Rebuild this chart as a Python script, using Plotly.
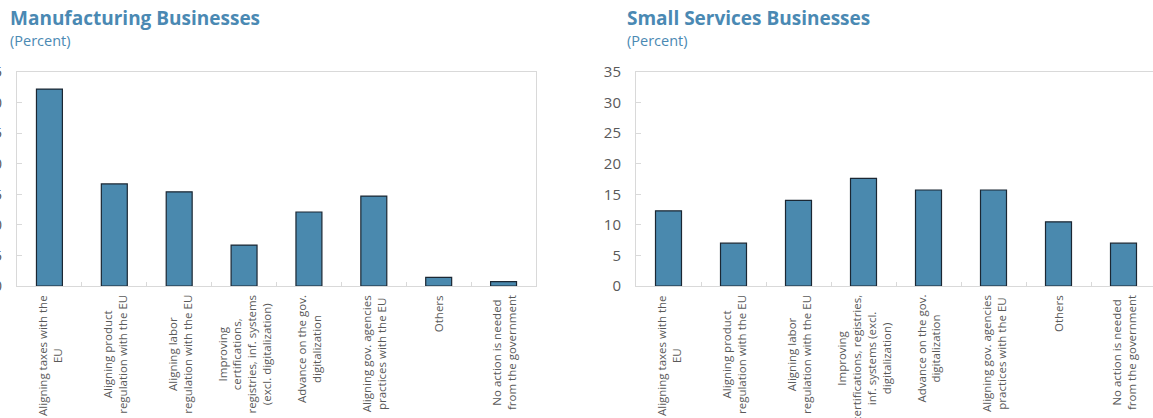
import plotly.graph_objects as go

W, H = 1153, 418

categories = [
    "Aligning taxes with the<br>EU",
    "Aligning product<br>regulation with the EU",
    "Aligning labor<br>regulation with the EU",
    "Improving<br>certifications,<br>registries, inf. systems<br>(excl. digitalization)",
    "Advance on the gov.<br>digitalization",
    "Aligning gov. agencies<br>practices with the EU",
    "Others",
    "No action is needed<br>from the government",
]
categories_services = [
    "Aligning taxes with the<br>EU",
    "Aligning product<br>regulation with the EU",
    "Aligning labor<br>regulation with the EU",
    "Improving<br>certifications, registries,<br>inf. systems (excl.<br>digitalization)",
    "Advance on the gov.<br>digitalization",
    "Aligning gov. agencies<br>practices with the EU",
    "Others",
    "No action is needed<br>from the government",
]
manufacturing = [32.2, 16.7, 15.4, 6.7, 12.1, 14.7, 1.4, 0.7]
services = [12.3, 7.0, 14.0, 17.6, 15.7, 15.7, 10.5, 7.0]
y_ticks = [0, 5, 10, 15, 20, 25, 30, 35]

BAR = "#4a89ae"
EDGE = "#1b2733"
TITLE = "#4a89b3"
GRID = "#d9d9d9"
TICKTXT = "#595959"


def px_x(v):
    return v / W


def px_y(v):
    return 1 - v / H


fig = go.Figure()
idx = list(range(len(categories)))
fig.add_trace(go.Bar(x=idx, y=manufacturing, xaxis="x", yaxis="y",
                     marker=dict(color=BAR, line=dict(color=EDGE, width=1.2)),
                     showlegend=False))
fig.add_trace(go.Bar(x=idx, y=services, xaxis="x2", yaxis="y2",
                     marker=dict(color=BAR, line=dict(color=EDGE, width=1.2)),
                     showlegend=False))

common_x = dict(range=[-0.5, 7.5], tickmode="array", tickvals=[i + 0.5 for i in idx[:-1]],
                showticklabels=False, ticks="inside", ticklen=4, tickcolor=GRID,
                showline=True, linecolor=GRID, linewidth=1, mirror=True,
                showgrid=False, zeroline=False, fixedrange=True, automargin=False)
common_y = dict(range=[0, 35], tickvals=y_ticks, ticks="inside", ticklen=5,
                tickcolor=GRID, showline=True, linecolor=GRID, linewidth=1,
                mirror=True, showgrid=False, zeroline=False, automargin=False,
                tickfont=dict(family="Open Sans", size=15, color=TICKTXT),
                ticklabelstandoff=11)

y_dom = [px_y(286), px_y(72)]
x2_right = 7.5 - 3 / 65.0

fig.update_layout(
    width=W, height=H, margin=dict(l=0, r=0, t=0, b=0, autoexpand=False),
    paper_bgcolor="white", plot_bgcolor="white", bargap=0.6,
    xaxis=dict(domain=[px_x(17), px_x(536)], anchor="y", **common_x),
    yaxis=dict(domain=y_dom, anchor="x", **common_y),
    xaxis2=dict(domain=[px_x(636), 1.0], anchor="y2",
                **{**common_x, "range": [-0.5, x2_right]}),
    yaxis2=dict(domain=y_dom, anchor="x2", **common_y),
)

annotations = []
for xref, labels in (("x", categories), ("x2", categories_services)):
    for i, lab in enumerate(labels):
        annotations.append(dict(
            x=i, xref=xref, y=px_y(293), yref="paper", text=lab,
            textangle=-90, showarrow=False, xanchor="center", yanchor="top",
            align="center", font=dict(family="Open Sans", size=11.5, color=TICKTXT)))

for x0, title in ((8, "Manufacturing Businesses"), (625, "Small Services Businesses")):
    annotations.append(dict(
        x=px_x(x0), y=px_y(3), xref="paper", yref="paper", xanchor="left",
        yanchor="top", showarrow=False, text=f"<b>{title}</b>",
        font=dict(family="Open Sans", size=19, color=TITLE)))
    annotations.append(dict(
        x=px_x(x0), y=px_y(29), xref="paper", yref="paper", xanchor="left",
        yanchor="top", showarrow=False, text="(Percent)",
        font=dict(family="Open Sans", size=14.5, color=TITLE)))

fig.update_layout(annotations=annotations)
fig.write_html("out.html")
